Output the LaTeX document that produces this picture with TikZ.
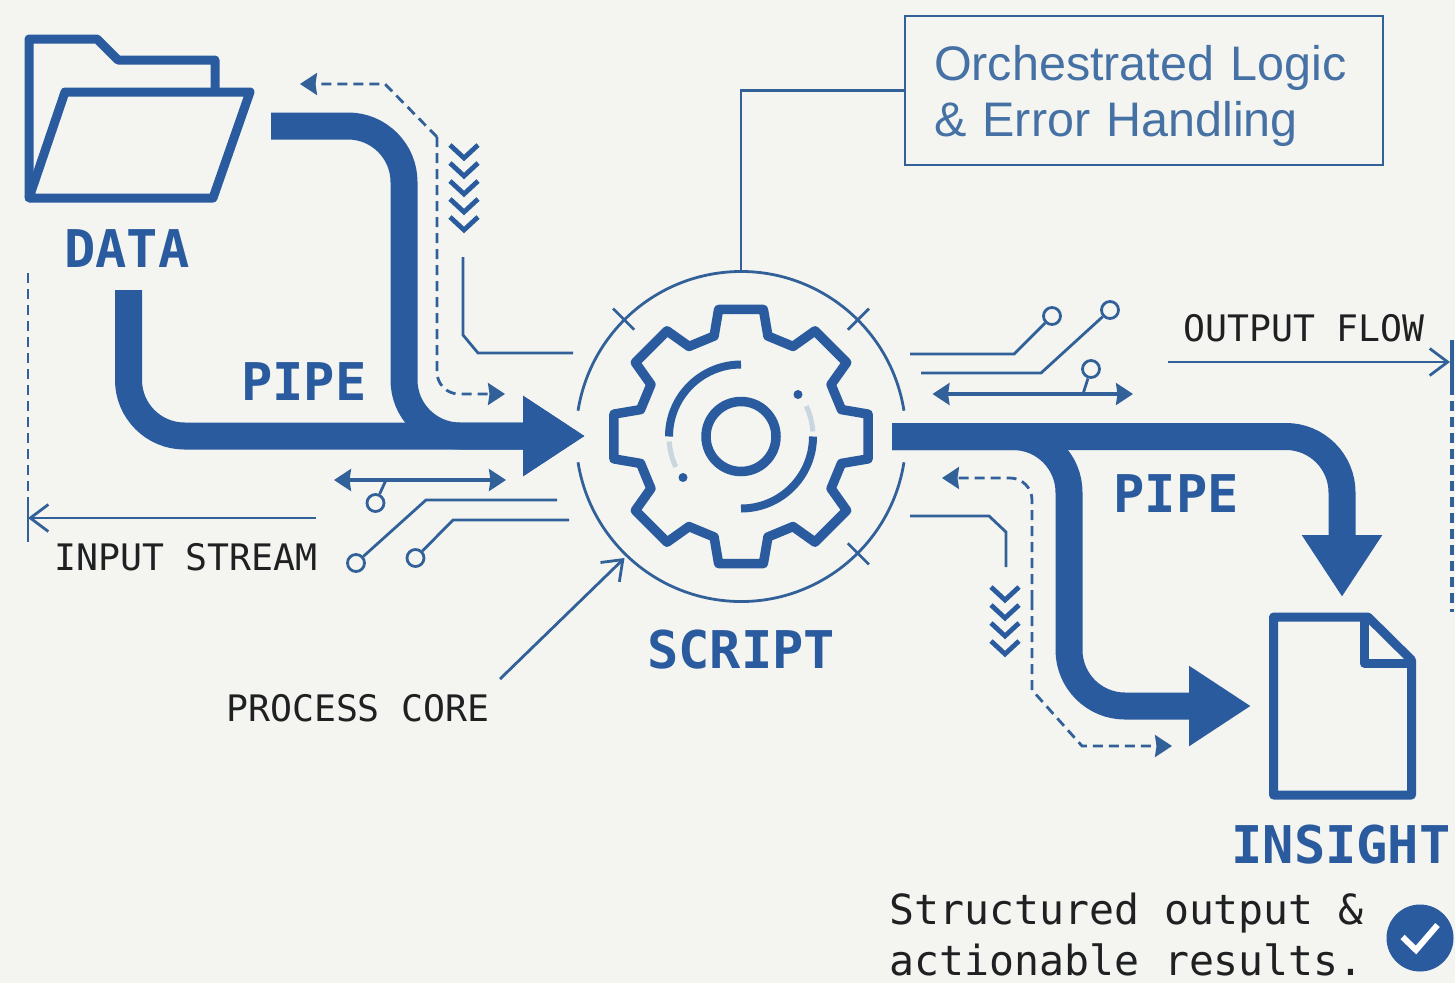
\documentclass[tikz,border=0pt]{standalone}
\usepackage{fontspec}
\setmainfont{Liberation Sans}
\setmonofont{DejaVu Sans Mono}
\usepackage{xcolor}
\usetikzlibrary{arrows.meta, positioning, shapes, calc}
\definecolor{pipeblue}{HTML}{2A5B9F}
\definecolor{wireblue}{HTML}{32619A}
\definecolor{paper}{HTML}{F4F5F0}
\definecolor{faint}{HTML}{C9D6E0}
\definecolor{inkblack}{HTML}{1E2022}

\begin{document}
\begin{tikzpicture}[
        x=1pt, y=-1pt,
        pipe/.style={draw=pipeblue, line width=27pt, rounded corners=56pt, -{Triangle[length=62pt, width=76pt]}},
        outline/.style={draw=pipeblue, line width=9pt, line join=round},
        gearline/.style={draw=pipeblue, line width=9.5pt, line join=round},
        wire/.style={draw=wireblue, line width=2.8pt},
        flowdash/.style={wire, dash pattern=on 10pt off 6pt, -{Stealth[length=17pt, width=22pt, inset=1.5pt]}},
        border/.style={draw=wireblue, line width=2.6pt, dash pattern=on 10pt off 6pt},
        bothway/.style={wire, line width=3.2pt, {Stealth[length=17pt, width=22pt, inset=1.5pt]}-{Stealth[length=17pt, width=22pt, inset=1.5pt]}},
        callout/.style={wire, -{Straight Barb[length=18pt, width=27pt]}},
        chevron/.style={draw=pipeblue, line width=4.8pt},
        padring/.style={circle, draw=wireblue, line width=2.8pt, minimum size=17pt, inner sep=0pt},
        title/.style={text=pipeblue, font=\ttfamily\bfseries\fontsize{52}{56}\selectfont, inner sep=0pt},
        tag/.style={text=inkblack, font=\ttfamily\fontsize{36.5}{40}\selectfont, inner sep=0pt}
    ]
        \fill[paper] (0,0) rectangle (1455,983);
        \useasboundingbox (0,0) rectangle (1455,983);

        \coordinate (core) at (741,436.5);
        \node[circle, minimum size=330pt, inner sep=0pt] (ring) at (core) {};

        % folder
        \draw[outline] (215,90) -- (215,60) -- (118,60) -- (97,39) -- (29,39) -- (29,198);
        \draw[outline] (65,92) -- (250,92) -- (213,198) -- (29,198) -- cycle;

        \node[title] (data) at (127,249) {DATA};
        \node[title] (pipeA) at (304,382) {PIPE};
        \node[title] (pipeB) at (1176,494) {PIPE};
        \node[title] (script) at (741,650) {SCRIPT};
        \node[title] (insight) at (1341,845) {INSIGHT};

        \node[tag] (stream) at (186,557) {INPUT STREAM};
        \node[tag] (corelabel) at (358,708) {PROCESS CORE};
        \node[tag] (flowlabel) at (1304,328) {OUTPUT FLOW};

        % main pipes
        \coordinate (datadown) at (128.5,290);
        \coordinate (folderout) at (271,126);
        \coordinate (corein) at (585,436);
        \coordinate (coreout) at (892,436.5);
        \coordinate (insightA) at (1342,597);
        \coordinate (insightB) at (1251,706);
        \draw[pipe] (datadown) |- (corein);
        \draw[pipe] (folderout) -| (404,436) -- (corein);
        \draw[pipe] (coreout) -| (insightA);
        \draw[pipe] (coreout) -| (1069,706) -- (insightB);

        % document
        \draw[outline] (1368,617) -- (1273.5,617) -- (1273.5,795) -- (1411.5,795) -- (1411.5,660) -- cycle;
        \draw[outline] (1364,617) -- (1364,663) -- (1408,663);

        % gear
        \draw[gearline, shift={(core)}] (-15:104pt) \foreach \a in {0,45,...,315} {
            -- (\a-15:104pt) -- (\a-10:129pt) -- (\a+10:129pt) -- (\a+15:104pt)
        } -- cycle;
        \draw[gearline] (core) circle (35pt);
        \draw[gearline, line width=8pt] ($(core)+(90:72pt)$) arc[start angle=90, end angle=180, radius=72pt];
        \draw[gearline, line width=8pt] ($(core)+(-90:72pt)$) arc[start angle=-90, end angle=0, radius=72pt];
        \draw[draw=faint, line width=5pt] ($(core)+(184:72pt)$) arc[start angle=184, end angle=205, radius=72pt];
        \draw[draw=faint, line width=5pt] ($(core)+(4:72pt)$) arc[start angle=4, end angle=25, radius=72pt];
        \fill[pipeblue] ($(core)+(-58,41)$) circle (4.5pt);
        \fill[pipeblue] ($(core)+(57,-42)$) circle (4.5pt);

        % ring
        \draw[wire] ($(core)+(9:165pt)$) arc[start angle=9, end angle=171, radius=165pt];
        \draw[wire] ($(core)+(-9:165pt)$) arc[start angle=-9, end angle=-171, radius=165pt];
        \foreach \a in {45,135,-45} {
            \draw[wire] ($(core)+(\a:151pt)$) -- ($(core)+(\a:181pt)$);
        }

        % callout box
        \node[draw=wireblue, line width=2.4pt, minimum width=478pt, minimum height=149pt] (logic) at (1144,90.5) {};
        \node[text=wireblue!90!white, text width=420pt, align=left, inner sep=0pt, font=\fontsize{48.5}{56}\selectfont] (logictext) at (1144,96) {Orchestrated Logic\\\& Error Handling};
        \draw[wire] (ring.north) |- (logic.west);

        % upper left traces
        \draw[flowdash] (437,137) -- (385,84) -- (300,84);
        \draw[flowdash, rounded corners=22pt] (437,137) -- (437,394) -- (505,394);
        \foreach \i in {0,...,4} {
            \draw[chevron] (450,{145+18*\i}) -- (464,{158+18*\i}) -- (478,{145+18*\i});
        }
        \coordinate (traceA) at (573,353);
        \draw[wire] (463,257) -- (463,335) -- (478,353) -- (traceA);

        % lower left traces
        \draw[bothway] (334,480) -- (506,480);
        \node[padring] (padA) at (375.5,503) {};
        \node[padring] (padB) at (356,563) {};
        \node[padring] (padC) at (415.5,558) {};
        \draw[wire] (386,480) -- (padA);
        \draw[wire] (557,500) -- (426,500) -- (padB);
        \draw[wire] (569,520) -- (453,520) -- (padC);
        \draw[callout] (316,518) -- (28,518);
        \draw[border] (28,273) -- (28,503);
        \draw[wire] (28,503) -- (28,542);
        \coordinate (coreentry) at (624.5,558);
        \coordinate (corefoot) at (500,679);
        \draw[callout] (corefoot) -- (coreentry);

        % upper right traces
        \node[padring] (padD) at (1052,316) {};
        \node[padring] (padE) at (1110,310) {};
        \node[padring] (padF) at (1091,369) {};
        \draw[wire] (910,354) -- (1014,354) -- (padD);
        \draw[wire] (921,373) -- (1041,373) -- (padE);
        \draw[bothway] (932.5,394) -- (1133,394);
        \draw[wire] (1083,394) -- (padF);
        \draw[callout] (1168,362) -- (1450,362);
        \draw[wire, line width=3.5pt] (1452,340) -- (1452,385);
        \draw[border, line width=3.5pt] (1452,385) -- (1452,612);

        % lower right traces
        \draw[flowdash, rounded corners=22pt] (1032,600) -- (1032,478) -- (942,478);
        \draw[flowdash] (1032,600) -- (1032,690) -- (1082,746) -- (1172,746);
        \draw[wire] (910,516) -- (989,516) -- (1006,532) -- (1006,567);
        \foreach \i in {0,...,3} {
            \draw[chevron] (991,{587+18*\i}) -- (1005,{600+18*\i}) -- (1019,{587+18*\i});
        }

        % result note
        \node[text=inkblack, font=\ttfamily\fontsize{41.5}{51}\selectfont, inner sep=0pt, align=left, anchor=base west] (note) at (889,975) {Structured output \&\\actionable results.};
        \fill[pipeblue] (1420,938) circle (33.5pt);
        \draw[white, line width=6pt] (1402.5,937) -- (1416,950) -- (1437.5,925);
    \end{tikzpicture}
\end{document}
